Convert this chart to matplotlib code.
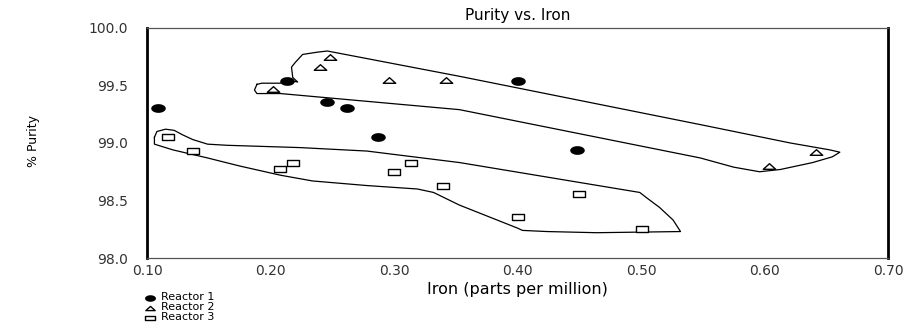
"""Purity vs. Iron scatter with hand drawn envelopes, saved to out.png"""

from matplotlib import pyplot as plt
from matplotlib.path import Path
import numpy as np

# Reactor data (iron ppm, % purity)
r1_iron = [0.109, 0.213, 0.246, 0.262, 0.287, 0.400, 0.448]
r1_purity = [99.30, 99.54, 99.36, 99.30, 99.05, 99.54, 98.94]

r2_iron = [0.248, 0.240, 0.202, 0.296, 0.342, 0.642, 0.604]
r2_purity = [99.75, 99.66, 99.47, 99.55, 99.55, 98.92, 98.80]

r3_iron = [0.117, 0.137, 0.218, 0.208, 0.300, 0.314, 0.340, 0.450, 0.400, 0.501]
r3_purity = [99.05, 98.93, 98.83, 98.77, 98.75, 98.83, 98.63, 98.56, 98.36, 98.25]

# envelope around reactor 2 points
env2_iron = [0.189, 0.193, 0.208, 0.213, 0.222, 0.218, 0.217, 0.220, 0.226, 0.238,
             0.246, 0.353, 0.548, 0.621, 0.653, 0.661, 0.655, 0.639, 0.613, 0.596,
             0.575, 0.548, 0.353, 0.208, 0.189, 0.187, 0.189]
env2_purity = [99.51, 99.52, 99.52, 99.55, 99.53, 99.57, 99.66, 99.70, 99.77, 99.79,
               99.80, 99.58, 99.16, 99.00, 98.94, 98.92, 98.88, 98.83, 98.77, 98.75,
               98.79, 98.87, 99.29, 99.43, 99.43, 99.46, 99.51]

# envelope around reactor 3 points
env3_iron = [0.106, 0.108, 0.115, 0.122, 0.129, 0.137, 0.149, 0.165, 0.224, 0.278,
             0.353, 0.499, 0.505, 0.515, 0.526, 0.532, 0.464, 0.424, 0.404, 0.400,
             0.353, 0.332, 0.319, 0.278, 0.234, 0.208, 0.175, 0.149, 0.121, 0.106,
             0.106]
env3_purity = [99.05, 99.10, 99.12, 99.11, 99.07, 99.03, 98.99, 98.98, 98.96, 98.93,
               98.83, 98.57, 98.52, 98.44, 98.33, 98.23, 98.22, 98.23, 98.24, 98.26,
               98.46, 98.57, 98.60, 98.63, 98.67, 98.72, 98.80, 98.87, 98.94, 98.99,
               99.05]

xticks = [0.10, 0.20, 0.30, 0.40, 0.50, 0.60, 0.70]
yticks = [98.0, 98.5, 99.0, 99.5, 100.0]

# flattened markers like the original
t = np.linspace(0, 2 * np.pi, 40)
ELLIPSE = Path(np.c_[1.0 * np.cos(t), 0.6 * np.sin(t)], closed=True)
FLAT_TRI = Path([(-1, -0.45), (0, 0.45), (1, -0.45), (-1, -0.45)], closed=True)
FLAT_BOX = Path([(-1, -0.5), (1, -0.5), (1, 0.5), (-1, 0.5), (-1, -0.5)], closed=True)

plt.rcParams["font.family"] = "DejaVu Sans"

fig = plt.figure(figsize=(9.2, 3.29), dpi=100)
ax = fig.add_axes([0.1598, 0.2158, 0.8054, 0.6991])

ax.plot(env2_iron, env2_purity, color="black", lw=0.9)
ax.plot(env3_iron, env3_purity, color="black", lw=0.9)

ax.scatter(r1_iron, r1_purity, marker=ELLIPSE, s=110, color="black", lw=0, zorder=5, label="Reactor 1")
ax.scatter(r2_iron, r2_purity, marker=FLAT_TRI, s=80, facecolor="white", edgecolor="black",
           lw=1.0, zorder=5, label="Reactor 2")
ax.scatter(r3_iron, r3_purity, marker=FLAT_BOX, s=80, facecolor="white", edgecolor="black",
           lw=1.0, zorder=5, label="Reactor 3")

ax.set(xlim=[0.10, 0.70], ylim=[98.0, 100.0])
ax.set_xticks(xticks)
ax.set_xticklabels([f"{v:.2f}" for v in xticks])
ax.set_yticks(yticks)
ax.set_yticklabels([f"{v:.1f}" for v in yticks])
ax.tick_params(length=0, labelsize=10, colors="#333333", pad=4)
ax.tick_params(axis="y", pad=14)

for side in ("left", "right"):
    ax.spines[side].set_linewidth(2.0)
for side in ("top", "bottom"):
    ax.spines[side].set_linewidth(0.9)
    ax.spines[side].set_color("#555555")

ax.set_title("Purity vs. Iron", fontsize=11, pad=6)
ax.set_xlabel("Iron (parts per million)", fontsize=11.5, labelpad=3)
fig.text(0.036, 0.57, "% Purity", rotation=90, fontsize=9, ha="center", va="center")

ax.legend(loc="upper left", bbox_to_anchor=(0.152, 0.128), bbox_transform=fig.transFigure,
          frameon=False, fontsize=8, labelspacing=0.0, handletextpad=0.5,
          handlelength=0.9, handleheight=0.6, borderpad=0, markerscale=0.75)

plt.savefig("out.png", dpi=100)
